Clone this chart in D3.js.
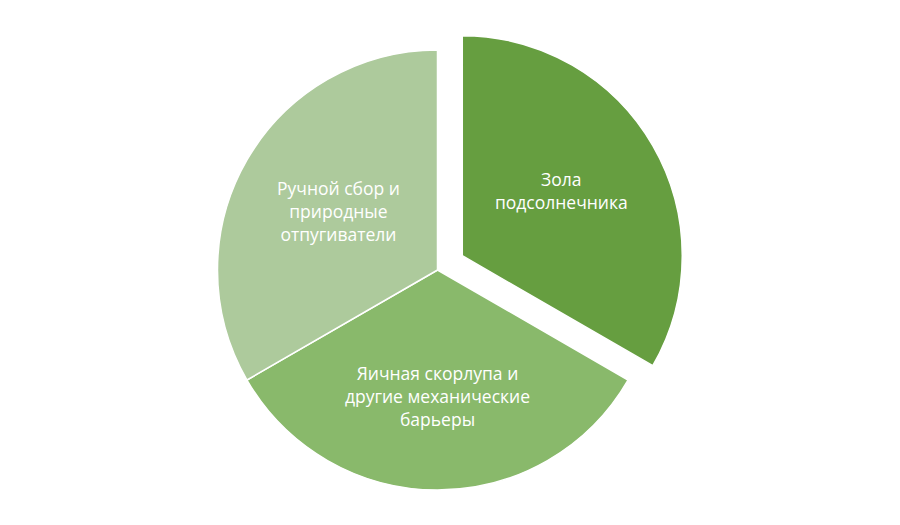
<!DOCTYPE html>
<html>
<head>
<meta charset="utf-8">
<script src="https://cdn.jsdelivr.net/npm/d3@7"></script>
<style>
  html, body { margin: 0; padding: 0; background: #fff; }
  svg { display: block; }
</style>
</head>
<body>
<svg id="chart" width="900" height="525"></svg>
<script>
// ---- data ----
const categories = [
  ["Зола", "подсолнечника"],
  ["Яичная скорлупа и", "другие механические", "барьеры"],
  ["Ручной сбор и", "природные", "отпугиватели"]
];
const values = [1, 1, 1];
const colors = ["#669E40", "#89B96B", "#ADCA9C"];
const explodedIndex = 0;

// ---- layout ----
const W = 900, H = 525;
const cx = 437.5, cy = 270, R = 220;
const explodeDist = 28.6;
const labelRadiusFactor = [0.52, 0.575, 0.52];
const labelDy = [-7, 0, -1];
const lineHeight = 23;

const svg = d3.select("#chart");
const g = svg.append("g").attr("transform", `translate(${cx},${cy})`);

const data = categories.map((c, i) => ({ lines: c, value: values[i], color: colors[i], i }));

const pie = d3.pie().value(d => d.value).sort(null);
const arcs = pie(data);
const arc = d3.arc().innerRadius(0).outerRadius(R);

const slices = g.selectAll("g.slice")
  .data(arcs)
  .join("g")
  .attr("class", "slice")
  .attr("transform", d => {
    if (d.index !== explodedIndex) return null;
    const a = (d.startAngle + d.endAngle) / 2;
    return `translate(${Math.sin(a) * explodeDist},${-Math.cos(a) * explodeDist})`;
  });

slices.append("path")
  .attr("d", arc)
  .attr("fill", d => d.data.color)
  .attr("stroke", "#fff")
  .attr("stroke-width", 1.5)
  .attr("stroke-linejoin", "round");

slices.append("text")
  .attr("text-anchor", "middle")
  .attr("fill", "#fff")
  .attr("font-family", "'Open Sans', 'Liberation Sans', sans-serif")
  .attr("font-size", 17.5)
  .each(function(d) {
    const a = (d.startAngle + d.endAngle) / 2;
    const r = R * labelRadiusFactor[d.index];
    const x = Math.sin(a) * r, y = -Math.cos(a) * r + labelDy[d.index];
    const n = d.data.lines.length;
    const t = d3.select(this);
    d.data.lines.forEach((ln, k) => {
      t.append("tspan")
        .attr("x", x)
        .attr("y", y + (k - (n - 1) / 2) * lineHeight + 6)
        .text(ln);
    });
  });
</script>
</body>
</html>
